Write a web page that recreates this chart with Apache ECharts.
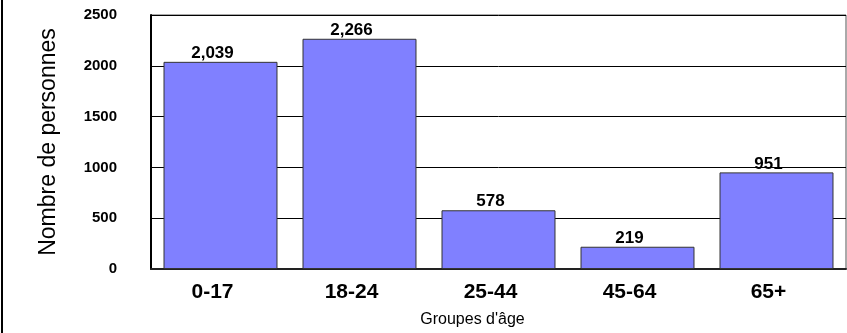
<!DOCTYPE html>
<html><head><meta charset="utf-8">
<script src="https://cdn.jsdelivr.net/npm/echarts@6/dist/echarts.min.js"></script>
<style>html,body{margin:0;padding:0;background:#fff}#c{width:847px;height:333px}
#frame{position:absolute;left:1px;top:0;width:2px;height:333px;background:#000}</style>
</head><body><div id="c"></div><div id="frame"></div>
<script>
const categories = ['0-17', '18-24', '25-44', '45-64', '65+'];
const values = [2039, 2266, 578, 219, 951];
const valueLabels = ['2,039', '2,266', '578', '219', '951'];
const yAxisName = 'Nombre de personnes';
const xAxisName = "Groupes d'âge";

const chart = echarts.init(document.getElementById('c'), null, {renderer: 'canvas'});
const F = '"Liberation Sans", Arial, sans-serif';
chart.setOption({
  animation: false,
  grid: {left: 151, top: 15, right: 1, bottom: 64, show: true, borderColor: '#555', borderWidth: 1},
  xAxis: {
    type: 'category', data: categories,
    axisLine: {lineStyle: {color: '#222', width: 2}},
    axisTick: {show: false},
    axisLabel: {fontFamily: F, fontWeight: 'bold', fontSize: 21, color: '#000', margin: 13, padding: [0, 16, 0, 0]},
    name: xAxisName, nameLocation: 'middle', nameGap: 43,
    nameTextStyle: {fontFamily: F, fontSize: 16, color: '#000', padding: [0, 52, 0, 0]}
  },
  yAxis: {
    type: 'value', min: 0, max: 2500, interval: 500,
    axisLine: {show: true, lineStyle: {color: '#000', width: 2}},
    axisTick: {show: false},
    splitLine: {lineStyle: {color: '#000', width: 1}},
    axisLabel: {fontFamily: F, fontWeight: 'bold', fontSize: 15, color: '#000', margin: 34,
      formatter: v => String(v)},
    name: yAxisName, nameLocation: 'middle', nameGap: 91, nameRotate: 90,
    nameTextStyle: {fontFamily: F, fontSize: 23, color: '#000'}
  },
  series: [{
    type: 'bar', data: values, barCategoryGap: '18%',
    itemStyle: {color: '#8080FF', borderColor: '#333', borderWidth: 1},
    label: {show: true, position: 'top', distance: 0, fontFamily: F, fontWeight: 'bold', fontSize: 17, color: '#000',
      padding: [0, 16, 0, 0],
      formatter: p => valueLabels[p.dataIndex]}
  }]
});
</script></body></html>
